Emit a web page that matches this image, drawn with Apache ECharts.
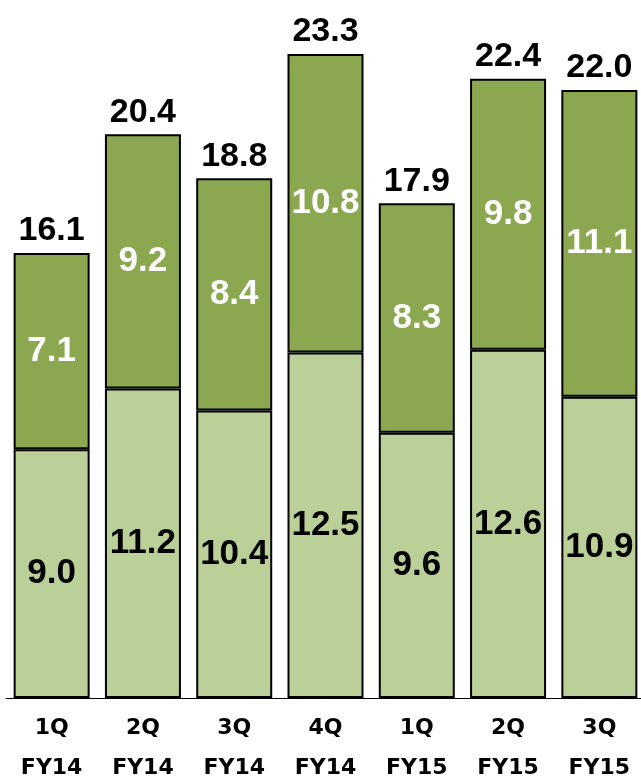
<!DOCTYPE html>
<html>
<head>
<meta charset="utf-8">
<script src="https://cdn.jsdelivr.net/npm/echarts@6/dist/echarts.min.js"></script>
<style>
  html, body { margin: 0; padding: 0; background: #fff; }
  #chart { width: 641px; height: 778px; }
</style>
</head>
<body>
<div id="chart"></div>
<script>
// Quarterly figures, split into a base part and an upper part
const quarters = ['1Q', '2Q', '3Q', '4Q', '1Q', '2Q', '3Q'];
const fiscalYears = ['FY14', 'FY14', 'FY14', 'FY14', 'FY15', 'FY15', 'FY15'];
const baseValues = [9.0, 11.2, 10.4, 12.5, 9.6, 12.6, 10.9];
const upperValues = [7.1, 9.2, 8.4, 10.8, 8.3, 9.8, 11.1];
const totalValues = [16.1, 20.4, 18.8, 23.3, 17.9, 22.4, 22.0];

const categories = quarters.map((q, i) => q + '\n' + fiscalYears[i]);

const valueFont = '"Liberation Sans", Arial, sans-serif';
const axisFont = '"DejaVu Sans", Verdana, sans-serif';

const chart = echarts.init(document.getElementById('chart'), null, { renderer: 'canvas' });

chart.setOption({
  animation: false,
  grid: { left: 6, right: -4, top: 7, bottom: 80, outerBoundsMode: 'none', containLabel: false },
  xAxis: {
    type: 'category',
    data: categories,
    axisLine: { show: true, lineStyle: { color: '#000', width: 1 } },
    axisTick: { show: false },
    axisLabel: {
      margin: 10,
      color: '#000',
      fontFamily: axisFont,
      fontWeight: 'bold',
      fontSize: 22,
      lineHeight: 40
    }
  },
  yAxis: {
    type: 'value',
    min: 0,
    max: 25,
    show: false,
    splitLine: { show: false }
  },
  series: [
    {
      name: 'base',
      type: 'bar',
      stack: 'total',
      data: baseValues,
      barWidth: 76,
      itemStyle: { color: '#BBCF99', borderColor: '#000', borderWidth: 2 },
      label: {
        show: true,
        position: 'inside',
        formatter: p => p.value.toFixed(1),
        color: '#000',
        fontFamily: valueFont,
        fontWeight: 'bold',
        fontSize: 35
      }
    },
    {
      name: 'upper',
      type: 'bar',
      stack: 'total',
      data: upperValues,
      barWidth: 76,
      itemStyle: { color: '#8BA850', borderColor: '#000', borderWidth: 2 },
      label: {
        show: true,
        position: 'inside',
        formatter: p => p.value.toFixed(1),
        color: '#fff',
        fontFamily: valueFont,
        fontWeight: 'bold',
        fontSize: 35
      }
    },
    {
      // totals written above each stacked bar
      name: 'total',
      type: 'bar',
      stack: 'total',
      data: totalValues.map(() => 0),
      barWidth: 76,
      itemStyle: { color: 'transparent' },
      label: {
        show: true,
        position: 'top',
        distance: 5,
        formatter: p => totalValues[p.dataIndex].toFixed(1),
        color: '#000',
        fontFamily: valueFont,
        fontWeight: 'bold',
        fontSize: 34
      }
    }
  ]
});
</script>
</body>
</html>
